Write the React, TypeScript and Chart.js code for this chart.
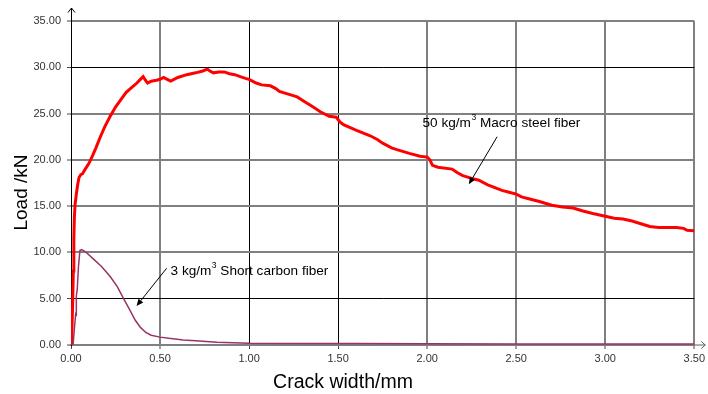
import React, { useEffect, useRef } from "react";
import { Chart, registerables } from "chart.js";

Chart.register(...registerables);

// ---- data ----
const steelX = [
  0, 0.005, 0.01, 0.013, 0.016, 0.019, 0.023, 0.03, 0.038, 0.045, 0.055, 0.065, 0.08, 0.1, 0.12, 0.14,
  0.165, 0.19, 0.22, 0.25, 0.28, 0.31, 0.34, 0.37, 0.395, 0.405, 0.415, 0.43, 0.45, 0.48, 0.5, 0.52,
  0.54, 0.56, 0.6, 0.65, 0.7, 0.74, 0.765, 0.78, 0.8, 0.83, 0.86, 0.89, 0.92, 0.95, 0.98, 1.0, 1.04,
  1.07, 1.12, 1.15, 1.17, 1.22, 1.27, 1.31, 1.36, 1.4, 1.45, 1.49, 1.51, 1.53, 1.6, 1.68, 1.72, 1.75,
  1.8, 1.83, 1.9, 1.96, 2.0, 2.015, 2.03, 2.06, 2.14, 2.17, 2.2, 2.25, 2.29, 2.34, 2.42, 2.46, 2.5,
  2.53, 2.57, 2.63, 2.7, 2.76, 2.82, 2.87, 2.93, 3.0, 3.05, 3.1, 3.15, 3.2, 3.25, 3.3, 3.4, 3.44, 3.46,
  3.5,
];
const steelY = [
  0, 1.5, 5.0, 8.0, 11.5, 13.8, 15.2, 16.3, 17.4, 18.1, 18.4, 18.5, 19.0, 19.6, 20.4, 21.3,
  22.5, 23.6, 24.7, 25.7, 26.5, 27.3, 27.8, 28.3, 28.8, 29.0, 28.7, 28.3, 28.5, 28.6, 28.7, 28.9,
  28.7, 28.5, 28.9, 29.2, 29.4, 29.6, 29.8, 29.6, 29.4, 29.5, 29.5, 29.3, 29.2, 29.0, 28.8, 28.7, 28.3,
  28.1, 28.0, 27.7, 27.4, 27.1, 26.8, 26.3, 25.7, 25.2, 24.7, 24.6, 24.1, 23.8, 23.2, 22.6, 22.2, 21.8,
  21.3, 21.1, 20.7, 20.4, 20.3, 20.0, 19.4, 19.2, 19.0, 18.6, 18.3, 18.0, 17.8, 17.3, 16.7, 16.5, 16.3,
  16.0, 15.8, 15.5, 15.1, 14.9, 14.8, 14.5, 14.2, 13.9, 13.7, 13.6, 13.4, 13.1, 12.8, 12.7, 12.7, 12.6, 12.4,
  12.35,
];
const carbonX = [
  0, 0.012, 0.02, 0.026, 0.029, 0.03, 0.035, 0.042, 0.05, 0.06, 0.08, 0.125, 0.17, 0.22, 0.26, 0.29,
  0.33, 0.36, 0.39, 0.42, 0.45, 0.5, 0.55, 0.63, 0.7, 0.82, 1.0, 1.3, 1.6, 2.0, 2.5, 3.0, 3.5,
];
const carbonY = [
  0, 0.1, 2.0, 3.3, 3.2, 5.3, 6.0, 8.5, 10.2, 10.3, 10.1, 9.3, 8.5, 7.4, 6.3, 5.2,
  3.8, 2.7, 1.9, 1.35, 1.05, 0.85, 0.72, 0.55, 0.45, 0.3, 0.2, 0.17, 0.15, 0.14, 0.12, 0.1, 0.1,
];

const xMin = 0;
const xMax = 3.5;
const xStep = 0.5;
const yMin = 0;
const yMax = 35;
const yStep = 5;

const xTitle = "Crack width/mm";
const yTitle = "Load /kN";
const steelLabel = ["50 kg/m", "3", " Macro steel fiber"];
const carbonLabel = ["3 kg/m", "3", " Short carbon fiber"];

// annotation anchors in data units
const steelNote = { tx: 1.974, ty: 24.0, ax0: 2.393, ay0: 22.5, ax1: 2.234, ay1: 17.36 };
const carbonNote = { tx: 0.559, ty: 8.0, ax0: 0.537, ay0: 8.29, ax1: 0.368, ay1: 4.21 };

const FONT = "'Liberation Sans', Arial, sans-serif";

const darkY = [5, 30];
const darkX = [0, 1, 1.5];
const isIn = (v: number, arr: number[]) => arr.some((a) => Math.abs(a - v) < 1e-6);

function drawRich(ctx: CanvasRenderingContext2D, parts: string[], x: number, y: number) {
  ctx.textBaseline = "middle";
  ctx.textAlign = "left";
  ctx.fillStyle = "#000";
  let cx = x;
  ctx.font = `13.6px ${FONT}`;
  ctx.fillText(parts[0], cx, y);
  cx += ctx.measureText(parts[0]).width;
  ctx.font = `8.5px ${FONT}`;
  ctx.fillText(parts[1], cx + 0.5, y - 5);
  cx += ctx.measureText(parts[1]).width + 0.5;
  ctx.font = `13.6px ${FONT}`;
  ctx.fillText(parts[2], cx, y);
}

function drawArrow(ctx: CanvasRenderingContext2D, x0: number, y0: number, x1: number, y1: number) {
  ctx.strokeStyle = "#000";
  ctx.fillStyle = "#000";
  ctx.lineWidth = 1;
  const ang = Math.atan2(y1 - y0, x1 - x0);
  const len = 7;
  const hw = 3;
  const bx = x1 - len * Math.cos(ang);
  const by = y1 - len * Math.sin(ang);
  ctx.beginPath();
  ctx.moveTo(x0, y0);
  ctx.lineTo(bx, by);
  ctx.stroke();
  ctx.beginPath();
  ctx.moveTo(x1, y1);
  ctx.lineTo(bx + hw * Math.sin(ang), by - hw * Math.cos(ang));
  ctx.lineTo(bx - hw * Math.sin(ang), by + hw * Math.cos(ang));
  ctx.closePath();
  ctx.fill();
}

const decorPlugin = {
  id: "decor",
  afterDraw(chart: any) {
    const ctx: CanvasRenderingContext2D = chart.ctx;
    const xs = chart.scales.x;
    const ys = chart.scales.y;
    const ca = chart.chartArea;
    ctx.save();

    // y axis arrow
    const ax = Math.round(xs.getPixelForValue(0)) + 0.5;
    ctx.strokeStyle = "#000";
    ctx.lineWidth = 1;
    ctx.beginPath();
    ctx.moveTo(ax, ca.top);
    ctx.lineTo(ax, ca.top - 13);
    ctx.moveTo(ax - 3.5, ca.top - 8.5);
    ctx.lineTo(ax, ca.top - 13);
    ctx.lineTo(ax + 3.5, ca.top - 8.5);
    ctx.stroke();

    // x axis arrow
    const ay = Math.round(ys.getPixelForValue(0));
    ctx.strokeStyle = "#606060";
    ctx.beginPath();
    ctx.moveTo(ca.right, ay);
    ctx.lineTo(ca.right + 11, ay);
    ctx.moveTo(ca.right + 7, ay - 3.5);
    ctx.lineTo(ca.right + 11, ay);
    ctx.lineTo(ca.right + 7, ay + 3.5);
    ctx.stroke();

    // annotations
    for (const [note, label] of [
      [steelNote, steelLabel],
      [carbonNote, carbonLabel],
    ] as const) {
      drawRich(ctx, label as string[], xs.getPixelForValue(note.tx), ys.getPixelForValue(note.ty));
      drawArrow(
        ctx,
        xs.getPixelForValue(note.ax0),
        ys.getPixelForValue(note.ay0),
        xs.getPixelForValue(note.ax1),
        ys.getPixelForValue(note.ay1)
      );
    }

    // axis titles
    ctx.fillStyle = "#000";
    ctx.font = `19.5px ${FONT}`;
    ctx.textAlign = "center";
    ctx.textBaseline = "middle";
    ctx.fillText(xTitle, 343, 383);
    ctx.save();
    ctx.translate(21.5, 192.5);
    ctx.rotate(-Math.PI / 2);
    ctx.font = `19px ${FONT}`;
    ctx.fillText(yTitle, 0, 0);
    ctx.restore();

    ctx.restore();
  },
};

export default function App() {
  const ref = useRef<HTMLCanvasElement | null>(null);
  useEffect(() => {
    if (!ref.current) return;
    const chart = new Chart(ref.current, {
      type: "scatter",
      data: {
        datasets: [
          {
            label: "3 kg/m3 Short carbon fiber",
            data: carbonX.map((x, i) => ({ x, y: carbonY[i] })),
            showLine: true,
            borderColor: "#993366",
            backgroundColor: "#993366",
            borderWidth: 1.5,
            pointRadius: 0,
          },
          {
            label: "50 kg/m3 Macro steel fiber",
            data: steelX.map((x, i) => ({ x, y: steelY[i] })),
            showLine: true,
            borderColor: "#ff0000",
            backgroundColor: "#ff0000",
            borderWidth: 3,
            pointRadius: 0,
          },
        ],
      },
      options: {
        animation: false,
        responsive: false,
        devicePixelRatio: 1,
        layout: { padding: { top: 21, right: 13, left: 0, bottom: 0 } },
        plugins: { legend: { display: false }, tooltip: { enabled: false } },
        scales: {
          x: {
            type: "linear",
            min: xMin,
            max: xMax,
            afterFit: (s: any) => {
              s.height = 49;
            },
            ticks: {
              stepSize: xStep,
              padding: 3,
              color: "#333",
              font: { family: FONT, size: 11 },
              maxRotation: 0,
              callback: (v: any) => Number(v).toFixed(2),
            },
            grid: {
              color: (c: any) => (isIn(c.tick?.value ?? -1, darkX) ? "#000" : "#808080"),
              lineWidth: (c: any) => (isIn(c.tick?.value ?? -1, darkX) ? 1 : 2),
              tickLength: 4,
              tickColor: "#444",
              tickWidth: 1,
            },
            border: { color: "#808080", width: 2 },
          },
          y: {
            type: "linear",
            min: yMin,
            max: yMax,
            afterFit: (s: any) => {
              s.width = 71;
            },
            ticks: {
              stepSize: yStep,
              padding: 6,
              color: "#333",
              font: { family: FONT, size: 11 },
              callback: (v: any) => Number(v).toFixed(2),
            },
            grid: {
              color: (c: any) => (isIn(c.tick?.value ?? -1, darkY) ? "#000" : "#808080"),
              lineWidth: (c: any) => (isIn(c.tick?.value ?? -1, darkY) ? 1 : 2),
              tickLength: 4,
              tickColor: "#444",
              tickWidth: 1,
            },
            border: { color: "#000", width: 1 },
          },
        },
      },
      plugins: [decorPlugin],
    } as any);
    return () => chart.destroy();
  }, []);
  return (
    <div style={{ position: "absolute", left: 0, top: 0, width: 708, height: 394, background: "#fff" }}>
      <canvas ref={ref} width={708} height={394} style={{ display: "block" }} />
    </div>
  );
}
